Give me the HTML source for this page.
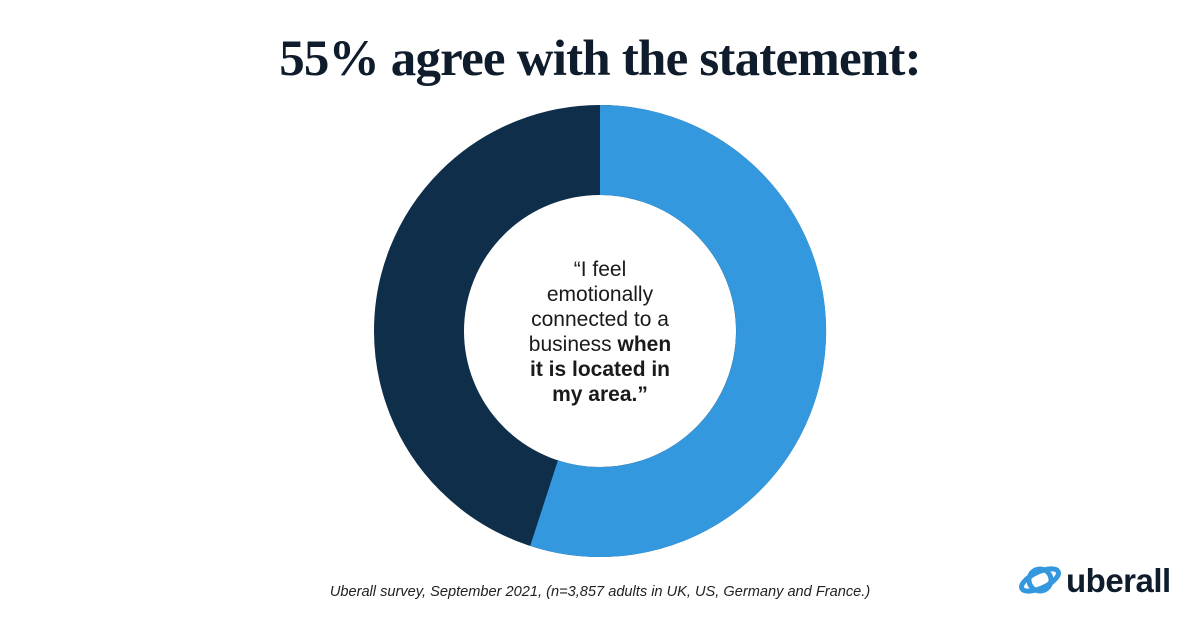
<!DOCTYPE html>
<html><head><meta charset="utf-8"><style>
body{margin:0;width:1200px;height:627px;background:#fff;overflow:hidden;position:relative;font-family:"Liberation Sans",sans-serif}
h1{position:absolute;top:30px;left:0;width:1200px;text-align:center;margin:0;font-family:"Liberation Serif",serif;font-weight:bold;font-size:51px;color:#0f1c2b;letter-spacing:-0.8px}
.q{position:absolute;left:450px;width:300px;top:257px;text-align:center;font-size:21px;line-height:25px;color:#1a1a1a}
.src{position:absolute;top:584px;left:0;width:1200px;text-align:center;font-style:italic;font-size:14.6px;color:#222}
.logo{position:absolute;left:1066px;top:562px;font-size:33px;font-weight:bold;color:#0f1c2b;letter-spacing:-0.5px}
</style></head><body>
<h1>55% agree with the statement:</h1>
<svg width="1200" height="627" style="position:absolute;left:0;top:0">
<circle cx="600" cy="331" r="181" fill="none" stroke="#0f2e4a" stroke-width="90"/>
<path d="M600,105 A226 226 0 1 1 530.2,545.9 L557.97,460.3 A136 136 0 1 0 600,195 Z" fill="#3498df"/>
<g transform="translate(1040,580) rotate(-25)" fill="none" stroke="#3498df" stroke-width="5">
<circle cx="0" cy="0" r="11"/>
<ellipse cx="0" cy="0" rx="20" ry="8"/>
</g>
</svg>
<div class="q">“I feel<br>emotionally<br>connected to a<br>business <b>when</b><br><b>it is located in</b><br><b>my area.”</b></div>
<div class="src">Uberall survey, September 2021, (n=3,857 adults in UK, US, Germany and France.)</div>
<div class="logo">uberall</div>
</body></html>
